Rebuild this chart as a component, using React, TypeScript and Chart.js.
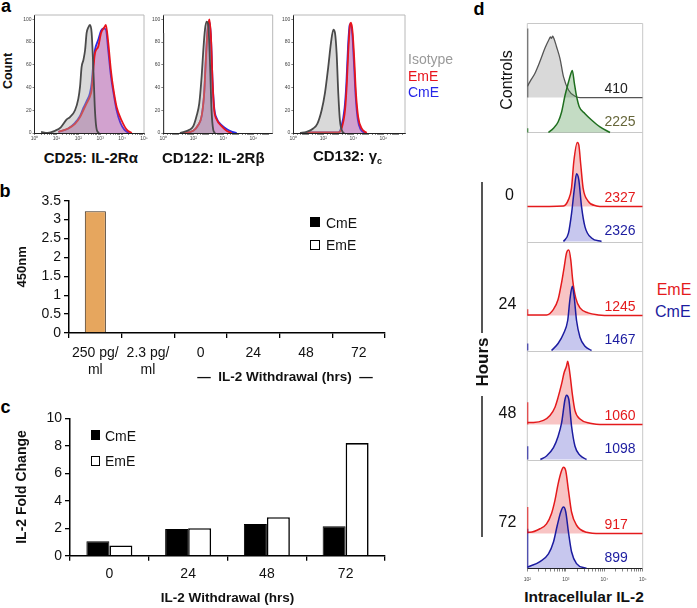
import React, { useEffect, useRef } from 'react';
import { Chart, registerables } from 'chart.js';

Chart.register(...registerables);

const FONT = '"Liberation Sans", Arial, Helvetica, sans-serif';
Chart.defaults.font.family = FONT;

type Pt = [number, number];

// ---------- Panel a: flow histograms (x = log10 fluorescence, y = % of max) ----------
const aCD25Iso: Pt[] = [[0.3, 1], [0.6, 0], [0.94, 2], [1.2, 5], [1.47, 12], [1.62, 14], [1.85, 20], [2.0, 30], [2.08, 41], [2.15, 58], [2.23, 64], [2.31, 73], [2.38, 88], [2.46, 93], [2.53, 95], [2.61, 88], [2.69, 55], [2.76, 20], [2.84, 3], [2.95, 0]];
const aCD25EmE: Pt[] = [[1.09, 1], [1.54, 4], [1.85, 8], [2.08, 14], [2.23, 20], [2.38, 26], [2.53, 32], [2.61, 38], [2.69, 57], [2.76, 70], [2.91, 76], [3.04, 88], [3.19, 93], [3.26, 95], [3.37, 79], [3.49, 55], [3.6, 39], [3.75, 23], [3.98, 11], [4.21, 3], [4.44, 0]];
const aCD25CmE: Pt[] = [[1.09, 1], [1.54, 4], [1.85, 9], [2.08, 15], [2.23, 22], [2.38, 28], [2.53, 35], [2.61, 44], [2.69, 62], [2.76, 73], [2.91, 82], [3.04, 90], [3.15, 92], [3.26, 91], [3.37, 72], [3.49, 50], [3.6, 36], [3.75, 20], [3.92, 9], [4.1, 3], [4.3, 0]];
const aCD122Iso: Pt[] = [[1.11, 0], [1.78, 3], [2.0, 6], [2.22, 15], [2.4, 26], [2.56, 50], [2.67, 73], [2.78, 91], [2.89, 98], [3.0, 95], [3.11, 64], [3.22, 20], [3.33, 3], [3.45, 0]];
const aCD122EmE: Pt[] = [[1.33, 0], [2.0, 2], [2.33, 7], [2.56, 15], [2.73, 35], [2.84, 64], [2.96, 91], [3.07, 100], [3.18, 85], [3.29, 44], [3.4, 20], [3.56, 12], [3.89, 6], [4.22, 2], [4.56, 0]];
const aCD122CmE: Pt[] = [[1.33, 0], [2.0, 2], [2.33, 7], [2.56, 15], [2.73, 36], [2.84, 66], [2.96, 92], [3.07, 98], [3.18, 84], [3.29, 45], [3.4, 22], [3.56, 13], [3.89, 7], [4.22, 3.5], [4.6, 1], [4.9, 0]];
const aCD132Iso: Pt[] = [[0.45, 0], [0.89, 1], [1.33, 4], [1.6, 8], [1.89, 20], [2.11, 35], [2.33, 58], [2.51, 79], [2.67, 91], [2.78, 88], [2.89, 70], [3.0, 35], [3.11, 11], [3.29, 1], [3.4, 0]];
const aCD132EmE: Pt[] = [[0.9, 0.5], [3.0, 0.5], [3.22, 4], [3.45, 20], [3.56, 41], [3.67, 73], [3.78, 95], [3.85, 97], [3.96, 88], [4.07, 64], [4.18, 35], [4.33, 14], [4.56, 4], [4.89, 0]];
const aCD132CmE: Pt[] = [[0.9, 0.5], [3.0, 0.5], [3.2, 5], [3.42, 22], [3.54, 44], [3.65, 76], [3.76, 95], [3.83, 96], [3.94, 86], [4.05, 60], [4.16, 32], [4.3, 12], [4.5, 3], [4.8, 0]];
// left-edge pile-up of the isotype per panel
const aIsoSpikes = [0, 88, 0];
const aYTicks = [0, 20, 40, 60, 80, 100];

// ---------- Panel b: ELISA ----------
const bCategories = [['250 pg/', 'ml'], ['2.3 pg/', 'ml'], '0', '24', '48', '72'];
const bStandard = [3.22, 0, null, null, null, null];
const bCmE = [null, null, 0, 0, 0, 0];
const bEmE = [null, null, 0, 0, 0, 0];
const bYTicks = [0, 0.5, 1, 1.5, 2, 2.5, 3, 3.5];

// ---------- Panel c: IL-2 fold change ----------
const cCategories = ['0', '24', '48', '72'];
const cCmE = [1.05, 1.95, 2.3, 2.15];
const cEmE = [0.75, 2.0, 2.8, 8.2];
const cYTicks = [0, 2, 4, 6, 8, 10];

// ---------- Panel d: intracellular IL-2 histograms (x = log10, y = % of max) ----------
const dCtrlIso: Pt[] = [[2.0, 16], [2.07, 23], [2.2, 35], [2.33, 52], [2.46, 71], [2.57, 84], [2.6, 87], [2.63, 85], [2.66, 88], [2.69, 85], [2.76, 73], [2.85, 56], [2.94, 30], [3.07, 11], [3.24, 2], [3.37, 0], [5, 0]];
const dCtrlPos: Pt[] = [[2.55, 0], [2.68, 6], [2.8, 15], [2.89, 29], [2.98, 53], [3.07, 72], [3.12, 82], [3.17, 89], [3.22, 72], [3.28, 52], [3.35, 37], [3.5, 27], [3.67, 18], [3.89, 8], [4.15, 0]];
const dEmE0: Pt[] = [[2, 0], [2.94, 1], [3.07, 10], [3.15, 27], [3.21, 65], [3.3, 92], [3.34, 88], [3.39, 60], [3.45, 27], [3.58, 8], [3.8, 1], [4.0, 0], [5, 0]];
const dCmE0: Pt[] = [[2.94, 0], [3.07, 12], [3.15, 40], [3.22, 74], [3.28, 97], [3.34, 88], [3.41, 50], [3.5, 21], [3.67, 5], [3.93, 0]];
const dEmE24: Pt[] = [[2, 1], [2.5, 1], [2.68, 9], [2.8, 23], [2.89, 47], [2.96, 70], [3.02, 90], [3.08, 94], [3.13, 80], [3.18, 51], [3.26, 25], [3.37, 11], [3.58, 4], [3.85, 1], [4.2, 0], [5, 0]];
const dCmE24: Pt[] = [[2.63, 0], [2.8, 10], [2.94, 24], [3.05, 43], [3.11, 74], [3.17, 92], [3.22, 76], [3.28, 43], [3.37, 19], [3.5, 6], [3.67, 0]];
const dEmE48: Pt[] = [[2, 3], [2.16, 3], [2.42, 6], [2.59, 13], [2.72, 25], [2.8, 39], [2.89, 58], [2.96, 75], [3.02, 84], [3.05, 91], [3.11, 72], [3.17, 44], [3.24, 20], [3.37, 8], [3.63, 2], [4.0, 0], [5, 0]];
const dCmE48: Pt[] = [[2.34, 0], [2.5, 5], [2.68, 17], [2.8, 33], [2.89, 52], [2.98, 86], [3.02, 92], [3.08, 86], [3.15, 48], [3.24, 19], [3.37, 6], [3.54, 0]];
const dEmE72: Pt[] = [[2, 2], [2.07, 2], [2.33, 7], [2.5, 14], [2.63, 29], [2.72, 48], [2.8, 71], [2.89, 90], [2.94, 95], [3.0, 90], [3.07, 62], [3.15, 31], [3.28, 12], [3.54, 2], [3.9, 0], [5, 0]];
const dCmE72: Pt[] = [[2, 2], [2.33, 10], [2.55, 21], [2.68, 38], [2.78, 62], [2.87, 81], [2.94, 88], [3.0, 81], [3.07, 52], [3.15, 24], [3.28, 7], [3.54, 0]];
// rows from bottom: 72 h, 48 h, 24 h, 0 h, controls
const dUpper = [dEmE72, dEmE48, dEmE24, dEmE0, dCtrlIso];
const dLower = [dCmE72, dCmE48, dCmE24, dCmE0, dCtrlPos];
const dUpperSpikes = [38, 32, 9, 0, 99];
const dLowerSpikes = [57, 19, 10, 0, 6];
const dUpperMFI = ['917', '1060', '1245', '2327', '410'];
const dLowerMFI = ['899', '1098', '1467', '2326', '2225'];
const dHours = ['72', '48', '24', '0'];

// ---------- helpers ----------
const SUP: Record<string, string> = { '0': '⁰', '1': '¹', '2': '²', '3': '³', '4': '⁴', '5': '⁵', '6': '⁶', '7': '⁷', '8': '⁸', '9': '⁹' };
const sup = (n: number) => String(n).split('').map((c) => SUP[c]).join('');

function logTicks(min: number, max: number) {
  const t: { value: number }[] = [];
  for (let d = Math.floor(min); d <= max; d++) {
    for (let k = 1; k <= 9; k++) {
      const v = d + Math.log10(k);
      if (v >= min - 1e-9 && v <= max + 1e-9) t.push({ value: v });
    }
  }
  return t;
}
const logLabel = (step: number) => (v: any) => {
  const n = Number(v);
  const r = Math.round(n);
  return Math.abs(n - r) < 1e-9 && r % step === 0 ? '10' + sup(r) : '';
};

const framePlugin = {
  id: 'frame',
  beforeDatasetsDraw(chart: any, _a: any, opts: any) {
    if (!opts || !opts.color) return;
    const { ctx, chartArea: a } = chart;
    ctx.save();
    ctx.strokeStyle = opts.color;
    ctx.lineWidth = opts.width || 1;
    ctx.beginPath();
    ctx.moveTo(a.left, a.top);
    ctx.lineTo(a.right, a.top);
    ctx.lineTo(a.right, a.bottom);
    if (opts.left) {
      ctx.moveTo(a.left, a.top);
      ctx.lineTo(a.left, a.bottom);
    }
    (opts.rows || []).forEach((v: number) => {
      const y = Math.round(chart.scales.y.getPixelForValue(v)) + 0.5;
      ctx.moveTo(a.left, y);
      ctx.lineTo(a.right, y);
    });
    ctx.stroke();
    ctx.restore();
  },
};

function histDs(pts: Pt[], base: number, scale: number, line: string, fill: string, width: number, order: number) {
  return {
    data: pts.map(([x, y]) => ({ x, y: base + y * scale })),
    borderColor: line,
    backgroundColor: fill,
    borderWidth: width,
    pointRadius: 0,
    fill: { value: base },
    cubicInterpolationMode: 'monotone',
    order,
  };
}
function spikeDs(x: number, h: number, base: number, scale: number, line: string, width: number) {
  return {
    data: [{ x, y: base }, { x, y: base + h * scale }],
    borderColor: line,
    borderWidth: width,
    pointRadius: 0,
    fill: false,
    order: -1,
  };
}

function ChartCanvas({ left, top, width, height, make }: any) {
  const ref = useRef<HTMLCanvasElement>(null);
  useEffect(() => {
    const chart = new Chart(ref.current as HTMLCanvasElement, make());
    return () => chart.destroy();
  }, []);
  return <canvas ref={ref} width={width} height={height} style={{ position: 'absolute', left, top, width, height }} />;
}

function Txt({ x, y, size, bold = false, color = '#111', rotate = 0, align = 'center', children }: any) {
  const tx = align === 'center' ? '-50%' : align === 'left' ? '0%' : '-100%';
  return (
    <div
      style={{
        position: 'absolute',
        left: x,
        top: y,
        transform: `translate(${tx},-50%)` + (rotate ? ` rotate(${rotate}deg)` : ''),
        fontSize: size,
        fontWeight: bold ? 'bold' : 'normal',
        color,
        lineHeight: 1,
        whiteSpace: 'pre',
        fontFamily: FONT,
      }}
    >
      {children}
    </div>
  );
}

function Square({ x, y, size, fill }: any) {
  return (
    <div
      style={{
        position: 'absolute',
        left: x,
        top: y,
        width: size,
        height: size,
        boxSizing: 'border-box',
        background: fill,
        border: '1.5px solid #000',
      }}
    />
  );
}

// ---------- panel a chart factory ----------
const A_PANELS = [
  { left: 18, width: 132, yW: 16.5, padR: 6, xMax: 5, step: 1, iso: aCD25Iso, em: aCD25EmE, cm: aCD25CmE },
  { left: 148, width: 130, yW: 15.3, padR: 5.3, xMax: 7.3, step: 2, iso: aCD122Iso, em: aCD122EmE, cm: aCD122CmE },
  { left: 278, width: 132, yW: 15.3, padR: 5, xMax: 7.45, step: 2, iso: aCD132Iso, em: aCD132EmE, cm: aCD132CmE },
];

function makeA(i: number) {
  const p = A_PANELS[i];
  return () => {
    const ds: any[] = [
      histDs(p.cm, 0, 1, '#2a2ae6', 'rgba(110,80,205,0.32)', 1.8, 2),
      histDs(p.em, 0, 1, '#e8141c', 'rgba(215,70,125,0.28)', 1.8, 1),
      histDs(p.iso, 0, 1, '#4a4a4a', 'rgba(165,165,165,0.42)', 1.8, 0),
    ];
    if (aIsoSpikes[i] > 0) ds.push(spikeDs(0, aIsoSpikes[i], 0, 1, '#4a4a4a', 1.8));
    return {
      type: 'line',
      data: { datasets: ds },
      plugins: [framePlugin],
      options: {
        responsive: false,
        animation: false,
        layout: { padding: { left: 0, top: 7, right: p.padR, bottom: 0 } },
        plugins: { legend: { display: false }, tooltip: { enabled: false }, frame: { color: '#b8b8b8' } },
        scales: {
          x: {
            type: 'linear',
            min: 0,
            max: p.xMax,
            afterBuildTicks: (s: any) => {
              s.ticks = logTicks(0, p.xMax);
            },
            afterFit: (s: any) => {
              s.height = 12;
            },
            ticks: { autoSkip: false, maxRotation: 0, font: { size: 5 }, color: '#444', padding: 1, callback: logLabel(p.step) },
            grid: { drawOnChartArea: false, tickLength: 2, color: '#333', lineWidth: 0.6 },
            border: { color: '#222', width: 1 },
          },
          y: {
            min: 0,
            max: 103.8,
            afterBuildTicks: (s: any) => {
              s.ticks = aYTicks.map((v) => ({ value: v }));
            },
            afterFit: (s: any) => {
              s.width = p.yW;
            },
            ticks: { autoSkip: false, font: { size: 5 }, color: '#444', padding: 1 },
            grid: { drawOnChartArea: false, tickLength: 2, color: '#333', lineWidth: 0.6 },
            border: { color: '#222', width: 1 },
          },
        },
      },
    };
  };
}

const makeB = () => ({
  type: 'bar',
  data: {
    labels: bCategories,
    datasets: [
      { label: 'Standard', data: bStandard, backgroundColor: '#E6A65E', borderColor: '#3b2b1b', borderWidth: 1 },
      { label: 'CmE', data: bCmE, backgroundColor: '#000', borderColor: '#000', borderWidth: 1 },
      { label: 'EmE', data: bEmE, backgroundColor: '#fff', borderColor: '#000', borderWidth: 1.5 },
    ],
  },
  options: {
    responsive: false,
    animation: false,
    layout: { padding: { left: 0, top: 12.7, right: 10, bottom: 0 } },
    plugins: { legend: { display: false }, tooltip: { enabled: false } },
    datasets: { bar: { categoryPercentage: 0.5, barPercentage: 0.8, skipNull: true } },
    scales: {
      x: {
        afterFit: (s: any) => {
          s.height = 47;
        },
        ticks: { font: { size: 14 }, color: '#111', padding: 6.5, maxRotation: 0, autoSkip: false },
        grid: { offset: true, drawOnChartArea: false, tickLength: 5, color: '#000', lineWidth: 1.3 },
        border: { color: '#000', width: 1.5 },
      },
      y: {
        min: 0,
        max: 3.5,
        afterBuildTicks: (s: any) => {
          s.ticks = bYTicks.map((v) => ({ value: v }));
        },
        ticks: { autoSkip: false, font: { size: 14 }, color: '#111', padding: 3, callback: (v: any) => String(v) },
        afterFit: (s: any) => {
          s.width = 58;
        },
        grid: { drawOnChartArea: false, tickLength: 5, color: '#000', lineWidth: 1.3 },
        border: { color: '#000', width: 1.5 },
        title: { display: true, text: '450nm', font: { size: 13, weight: 'bold' }, color: '#111', padding: { top: 4, bottom: 4 } },
      },
    },
  },
});

const makeC = () => ({
  type: 'bar',
  data: {
    labels: cCategories,
    datasets: [
      { label: 'CmE', data: cCmE, backgroundColor: '#000', borderColor: '#000', borderWidth: 1 },
      { label: 'EmE', data: cEmE, backgroundColor: '#fff', borderColor: '#000', borderWidth: 1.6 },
    ],
  },
  options: {
    responsive: false,
    animation: false,
    layout: { padding: { left: 0, top: 13.3, right: 10, bottom: 0 } },
    plugins: { legend: { display: false }, tooltip: { enabled: false } },
    datasets: { bar: { categoryPercentage: 0.584, barPercentage: 1 } },
    scales: {
      x: {
        afterFit: (s: any) => {
          s.height = 54.3;
        },
        ticks: { font: { size: 14 }, color: '#111', padding: 5, maxRotation: 0, autoSkip: false },
        grid: { offset: true, drawOnChartArea: false, tickLength: 5, color: '#000', lineWidth: 1.3 },
        border: { color: '#000', width: 1.5 },
        title: { display: true, text: 'IL-2 Withdrawal (hrs)', font: { size: 13.5, weight: 'bold' }, color: '#111', padding: { top: 4, bottom: 4 } },
      },
      y: {
        min: 0,
        max: 10,
        afterBuildTicks: (s: any) => {
          s.ticks = cYTicks.map((v) => ({ value: v }));
        },
        ticks: { autoSkip: false, font: { size: 14 }, color: '#111', padding: 3, callback: (v: any) => String(v) },
        afterFit: (s: any) => {
          s.width = 60;
        },
        grid: { drawOnChartArea: false, tickLength: 5, color: '#000', lineWidth: 1.3 },
        border: { color: '#000', width: 1.5 },
        title: { display: true, text: 'IL-2 Fold Change', font: { size: 14, weight: 'bold' }, color: '#111', padding: { top: 4, bottom: 4 } },
      },
    },
  },
});

const D_UP = 0.32;
const D_SC = 0.0064;

const makeD = () => {
  const ds: any[] = [];
  for (let r = 0; r < 5; r++) {
    const ctrl = r === 4;
    const upLine = ctrl ? '#555555' : '#e41a1c';
    const upFill = ctrl ? 'rgba(160,160,160,0.4)' : 'rgba(232,60,60,0.3)';
    const loLine = ctrl ? '#1f6f1f' : '#1c1ca0';
    const loFill = ctrl ? 'rgba(60,140,60,0.3)' : 'rgba(70,70,200,0.3)';
    ds.push(histDs(dLower[r], r, D_SC, loLine, loFill, 1.5, 0));
    ds.push(histDs(dUpper[r], r + D_UP, D_SC, upLine, upFill, ctrl ? 1.3 : 1.5, 1));
    if (dUpperSpikes[r] > 0) ds.push(spikeDs(2, dUpperSpikes[r], r + D_UP, D_SC, upLine, 2));
    if (dLowerSpikes[r] > 0) ds.push(spikeDs(2, dLowerSpikes[r], r, D_SC, loLine, 2));
  }
  return {
    type: 'line',
    data: { datasets: ds },
    plugins: [framePlugin],
    options: {
      responsive: false,
      animation: false,
      layout: { padding: { left: 12.3, top: 10.5, right: 12.3, bottom: 0 } },
      plugins: { legend: { display: false }, tooltip: { enabled: false }, frame: { color: '#c8c8c8', left: true, rows: [1, 2, 3, 4] } },
      scales: {
        x: {
          type: 'linear',
          min: 2,
          max: 5,
          afterBuildTicks: (s: any) => {
            s.ticks = logTicks(2, 5);
          },
          afterFit: (s: any) => {
            s.height = 19.5;
          },
          ticks: { autoSkip: false, maxRotation: 0, font: { size: 5 }, color: '#444', padding: 5, callback: logLabel(1) },
          grid: { drawOnChartArea: false, tickLength: 3, color: '#333', lineWidth: 0.6 },
          border: { color: '#222', width: 1 },
        },
        y: { display: false, min: 0, max: 5 },
      },
    },
  };
};

export default function App() {
  const rowMid = (r: number) => 568.5 - 109 * r;
  return (
    <div style={{ position: 'fixed', left: 0, top: 0, width: 697, height: 608, background: '#fff', overflow: 'hidden', fontFamily: FONT }}>
      {/* panel letters */}
      <Txt x={6} y={6} size={18} bold color="#000">a</Txt>
      <Txt x={5} y={191} size={18} bold color="#000">b</Txt>
      <Txt x={5.5} y={406.5} size={18} bold color="#000">c</Txt>
      <Txt x={479} y={8.5} size={18} bold color="#000">d</Txt>

      {/* panel a */}
      {A_PANELS.map((p, i) => (
        <ChartCanvas key={i} left={p.left} top={8} width={p.width} height={137} make={makeA(i)} />
      ))}
      <Txt x={8.3} y={71} size={12.5} bold rotate={-90}>Count</Txt>
      <Txt x={90.8} y={157} size={15} bold>CD25: IL-2Rα</Txt>
      <Txt x={213.3} y={157} size={15} bold>CD122: IL-2Rβ</Txt>
      <Txt x={347.5} y={157} size={15} bold>
        CD132: γ<span style={{ fontSize: 9, verticalAlign: -3 }}>c</span>
      </Txt>
      <Txt x={408} y={59} size={14} align="left" color="#9a9a9a">Isotype</Txt>
      <Txt x={408} y={76} size={14} align="left" color="#e8141c">EmE</Txt>
      <Txt x={408} y={92.3} size={14} align="left" color="#2626e8">CmE</Txt>

      {/* panel b */}
      <ChartCanvas left={11} top={188} width={384} height={192} make={makeB} />
      <Square x={310} y={217.3} size={10} fill="#000" />
      <Txt x={326} y={223.3} size={14} align="left">CmE</Txt>
      <Square x={310} y={240} size={10} fill="#fff" />
      <Txt x={326} y={245} size={14} align="left">EmE</Txt>
      <Txt x={285} y={377} size={13.5} bold>{'—  IL-2 Withdrawal (hrs)  —'}</Txt>

      {/* panel c */}
      <ChartCanvas left={10} top={405} width={385} height={205} make={makeC} />
      <Square x={90.7} y={430} size={9.5} fill="#000" />
      <Txt x={105} y={435.7} size={14} align="left">CmE</Txt>
      <Square x={90.7} y={456} size={9.5} fill="#fff" />
      <Txt x={105} y={460.7} size={14} align="left">EmE</Txt>

      {/* panel d */}
      <ChartCanvas left={515} top={13} width={140} height={575} make={makeD} />
      <Txt x={507.3} y={80} size={16} rotate={-90}>Controls</Txt>
      {dHours.map((h, r) => (
        <Txt key={h} x={h === '0' ? 509.5 : 507.5} y={rowMid(r) - 47} size={16}>{h}</Txt>
      ))}
      <div style={{ position: 'absolute', left: 481, top: 181.7, width: 1.5, height: 151.6, background: '#555' }} />
      <div style={{ position: 'absolute', left: 481, top: 396, width: 1.5, height: 140.7, background: '#555' }} />
      <Txt x={481.7} y={361.7} size={17} bold rotate={-90}>Hours</Txt>
      {dUpperMFI.map((t, r) => (
        <Txt key={'u' + r} x={604.5} y={rowMid(r) - 45} size={14} align="left" color={r === 4 ? '#222' : '#e41a1c'}>{t}</Txt>
      ))}
      {dLowerMFI.map((t, r) => (
        <Txt key={'l' + r} x={604.5} y={rowMid(r) - 11.5} size={14} align="left" color={r === 4 ? '#66663a' : '#1c1ca0'}>{t}</Txt>
      ))}
      <Txt x={656.7} y={290} size={16} align="left" color="#e41a1c">EmE</Txt>
      <Txt x={655} y={312} size={16} align="left" color="#1c1ca0">CmE</Txt>
      <Txt x={584} y={597} size={15.5} bold>Intracellular IL-2</Txt>
    </div>
  );
}
